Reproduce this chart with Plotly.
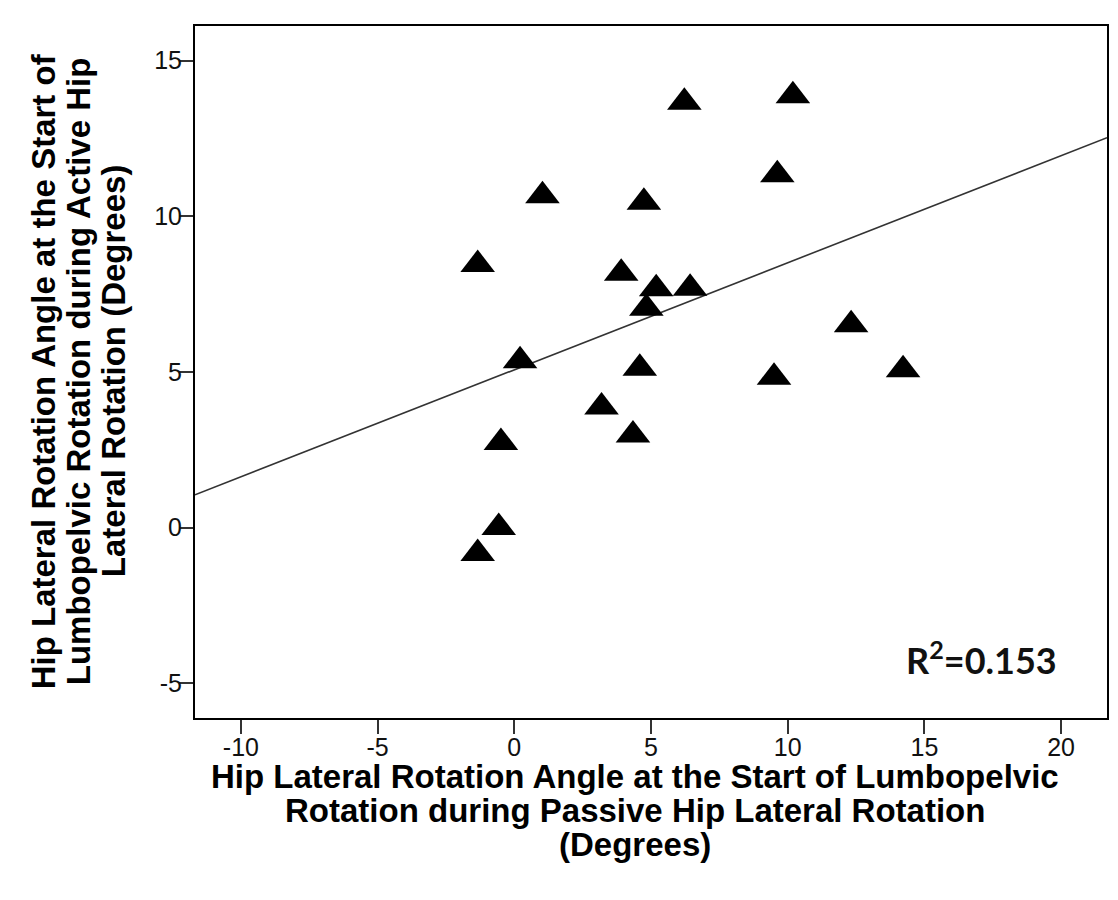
import numpy as np
import plotly.graph_objects as go

# Passive hip LR angle at start of lumbopelvic rotation (deg)
passive_deg = [0.21, 4.59, 3.19, 4.34, -0.49, 1.03, 4.74, -1.34, 3.91, 5.19,
               6.43, 4.83, -0.57, -1.34, 6.22, 10.19, 9.62, 12.32, 9.50, 14.22]
# Active hip LR angle at start of lumbopelvic rotation (deg)
active_deg = [5.36, 5.12, 3.88, 2.98, 2.74, 10.66, 10.45, 8.45, 8.17, 7.67,
              7.69, 7.05, 0.01, -0.83, 13.66, 13.87, 11.33, 6.52, 4.83, 5.07]

x_ticks = [-10, -5, 0, 5, 10, 15, 20]
x_tick_text = ["-10", "-5", "0", "5", "10", "15", "20"]
y_ticks = [-5, 0, 5, 10, 15]
y_tick_text = ["-5", "0", "5", "10", "15"]
x_range = [-11.68, 21.68]
y_range = [-6.11, 16.11]

x_title_lines = ["Hip Lateral Rotation Angle at the Start of Lumbopelvic",
                 "Rotation during Passive Hip Lateral Rotation",
                 "(Degrees)"]
y_title_lines = ["Hip Lateral Rotation Angle at the Start of",
                 "Lumbopelvic Rotation during Active Hip",
                 "Lateral Rotation (Degrees)"]
r2_label = "R<sup>2</sup>=0.153"

# linear fit from the data
slope, intercept = np.polyfit(passive_deg, active_deg, 1)
fit_x = np.array(x_range)
fit_y = intercept + slope * fit_x

OFF = 8  # page body margin
W, H = 1118 - OFF, 900 - OFF
L, R, T, B = 195 - OFF, 9, 26 - OFF, 182
pw, ph = W - L - R, H - T - B

def px_x(px):
    return (px - OFF - L) / pw

def px_y(py):
    return (OFF + T + ph - py) / ph

fig = go.Figure()
fig.add_trace(go.Scatter(x=fit_x, y=fit_y, mode="lines",
                         line=dict(color="#333333", width=1.6),
                         showlegend=False, hoverinfo="skip"))
fig.add_trace(go.Scatter(x=passive_deg, y=active_deg, mode="markers",
                         marker=dict(symbol="triangle-up", size=30, color="black",
                                     line=dict(width=0)),
                         showlegend=False))

title_font = dict(family="Liberation Sans, Arial", size=33, color="black")
annotations = []
for i, line in enumerate(x_title_lines):
    annotations.append(dict(text="<b>%s</b>" % line, x=px_x(636), y=px_y(776 + 34 * i),
                            xref="paper", yref="paper", showarrow=False,
                            xanchor="center", yanchor="middle", font=title_font))
for i, line in enumerate(y_title_lines):
    annotations.append(dict(text="<b>%s</b>" % line, x=px_x(43 + 35 * i), y=px_y(371),
                            xref="paper", yref="paper", showarrow=False, textangle=-90,
                            xanchor="center", yanchor="middle", font=title_font))
annotations.append(dict(text="<b>%s</b>" % r2_label, x=px_x(983), y=px_y(658),
                        xref="paper", yref="paper", showarrow=False,
                        xanchor="center", yanchor="middle",
                        font=dict(family="Lato", size=36, color="#111111")))

axis_common = dict(showgrid=False, zeroline=False, showline=True, linecolor="black",
                   linewidth=2, mirror=True, ticks="outside", ticklen=14, tickwidth=2,
                   tickcolor="#333333", ticklabelstandoff=-8,
                   tickfont=dict(family="Liberation Sans, Arial", size=25, color="#111111"))

fig.update_layout(
    width=W, height=H,
    margin=dict(l=L, r=R, t=T, b=B),
    paper_bgcolor="white", plot_bgcolor="white",
    xaxis=dict(range=x_range, tickvals=x_ticks, ticktext=x_tick_text, **axis_common),
    yaxis=dict(range=y_range, tickvals=y_ticks, ticktext=y_tick_text, **axis_common),
    annotations=annotations,
)

fig.write_html("out.html")
